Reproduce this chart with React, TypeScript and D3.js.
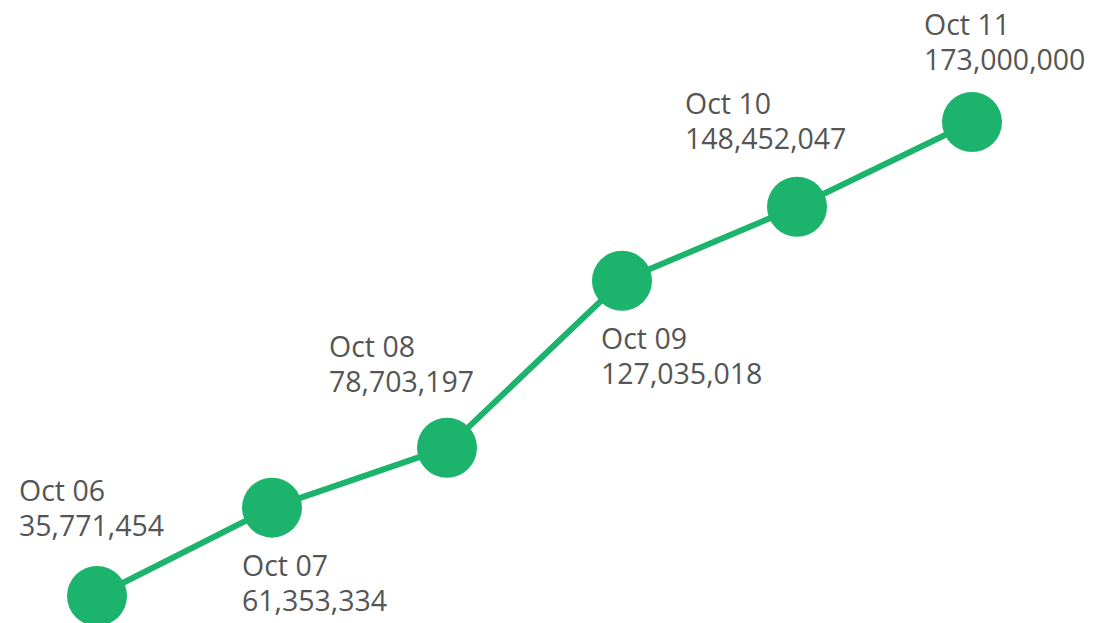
import React from 'react';
import * as d3 from 'd3';

// daily totals, one point per day
const days = ['Oct 06', 'Oct 07', 'Oct 08', 'Oct 09', 'Oct 10', 'Oct 11'];
const totals = [35771454, 61353334, 78703197, 127035018, 148452047, 173000000];

// where each label block sits relative to its dot (layout only)
const labelOffsets: [number, number][] = [
  [-78, -95],
  [-30, 68],
  [-118, -91],
  [-21, 68],
  [-112, -93],
  [-48, -87],
];

const W = 1097;
const H = 623;
const green = '#1cb46c';
const fmt = d3.format(',');

export default function App() {
  const x = d3.scalePoint<string>().domain(days).range([97, 972]);
  const y = d3
    .scaleLinear()
    .domain([d3.min(totals) as number, d3.max(totals) as number])
    .range([596, 122]);

  const pts = days.map((d, i) => ({ day: d, value: totals[i] }));
  const line = d3
    .line<{ day: string; value: number }>()
    .x((d) => x(d.day) as number)
    .y((d) => y(d.value));

  return (
    <svg
      width={W}
      height={H}
      style={{ position: 'absolute', left: 0, top: 0, background: '#fff' }}
      fontFamily="'Open Sans', sans-serif"
    >
      <path d={line(pts) || ''} fill="none" stroke={green} strokeWidth={6} />
      {pts.map((p, i) => (
        <circle key={'c' + i} cx={x(p.day)} cy={y(p.value)} r={30} fill={green} />
      ))}
      {pts.map((p, i) => {
        const cx = x(p.day) as number;
        const cy = y(p.value);
        const [dx, dy] = labelOffsets[i];
        return (
          <text key={'t' + i} x={cx + dx} y={cy + dy} fontSize={28.5} fill="#555">
            <tspan x={cx + dx}>{p.day}</tspan>
            <tspan x={cx + dx} dy={35}>
              {fmt(p.value)}
            </tspan>
          </text>
        );
      })}
    </svg>
  );
}
